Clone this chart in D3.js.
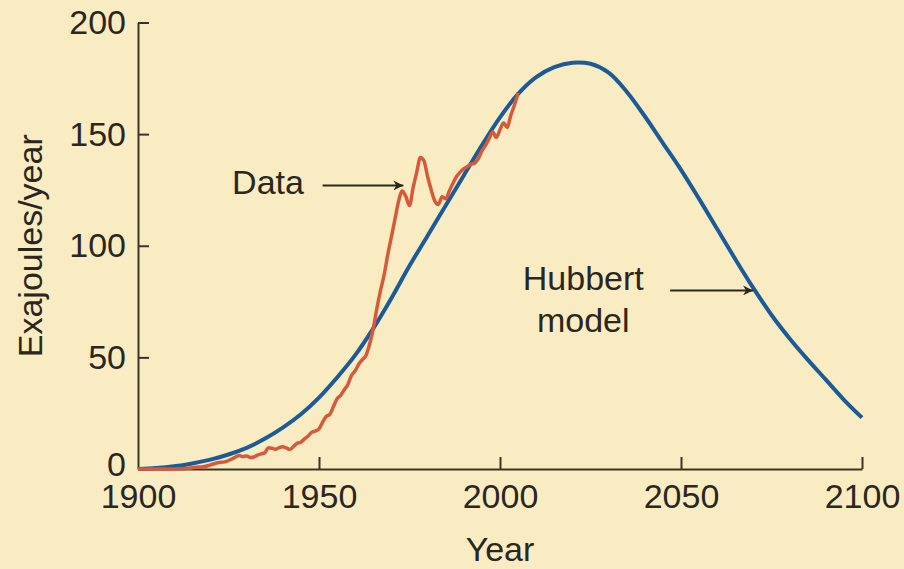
<html>
<head>
<script src="https://cdn.jsdelivr.net/npm/d3@7"></script>
<style>
    body { margin: 0; background: #faecc2; }
    svg { display: block; }
    .axis path, .axis line { stroke: #3a3424; stroke-width: 2; }
    .axis text, text.label { fill: #2a2620; font-family: "Liberation Sans", Arial, sans-serif; }
</style>
</head>
<body>
<script>
// Hubbert model curve (Exajoules/year)
var modelYears  = [1900, 1905, 1910, 1915, 1920, 1925, 1930, 1935, 1940, 1945, 1950, 1955, 1960, 1965, 1970,
    1975, 1980, 1985, 1990, 1995, 2000, 2005, 2010, 2015, 2020, 2025, 2030, 2035, 2040, 2045, 2050,
    2055, 2060, 2065, 2070, 2075, 2080, 2085, 2090, 2095, 2100];
var modelValues = [0, 0.4, 1.2, 2.5, 4.2, 6.5, 9.5, 13.5, 18.5, 24.5, 32, 41, 51, 63, 76.5,
    91, 104.5, 118, 131.5, 145, 157.5, 168, 175.5, 180, 182, 181.5, 177.5, 169, 158, 146, 134,
    121, 107.5, 94, 81, 69, 58.5, 49, 40, 31, 23];

var dataYears = [1900, 1905, 1910, 1914, 1916, 1918, 1920, 1922, 1924, 1926, 1928, 1929, 1930, 1931, 1932, 1933, 1934, 1935,
    1936, 1937, 1938, 1939, 1940, 1941, 1942, 1943, 1944, 1945, 1946, 1947, 1948, 1949, 1950, 1951, 1952, 1953, 1954,
    1955, 1956, 1957, 1958, 1959, 1960, 1961, 1962, 1963, 1964, 1965, 1966, 1967, 1968, 1969, 1970, 1971, 1972, 1973,
    1974, 1975, 1976, 1977, 1978, 1979, 1980, 1981, 1982, 1983, 1984, 1985, 1986, 1987, 1988, 1989, 1990, 1991, 1992,
    1993, 1994, 1995, 1996, 1997, 1998, 1999, 2000, 2001, 2002, 2003, 2004, 2005];
var dataValues = [0, 0, 0, 0.3, 0.8, 1.0, 1.8, 2.8, 3.2, 4.5, 6.0, 5.6, 5.8, 5.2, 5.4, 6.2, 6.8, 7.2,
    9.5, 9.3, 8.8, 9.6, 10.0, 9.4, 8.8, 10.2, 11.5, 12.0, 13.5, 14.8, 16.5, 17.0, 18.0, 21.0, 23.5, 24.5, 28.0,
    31.5, 33.0, 35.5, 38.0, 42.0, 44.0, 47.0, 49.0, 51.0, 56.0, 63.0, 72.0, 80.0, 87.0, 96.0, 104.0, 112.0, 120.0, 124.5,
    122.0, 118.0, 126.0, 133.0, 139.5, 138.0, 131.0, 125.0, 120.0, 118.5, 122.0, 121.0, 124.5, 128.0, 131.0, 133.0, 134.5, 135.5, 136.5,
    137.0, 139.0, 142.5, 145.0, 148.0, 151.0, 148.5, 152.0, 155.0, 153.0, 158.5, 163.0, 168.5];

var xTicks = [1900, 1950, 2000, 2050, 2100];
var yTicks = [0, 50, 100, 150, 200];

// annotations: label lines and the point the arrow hits
var notes = [
    { lines: ["Data"], textYear: 1926, textValue: 123, anchor: "start", fromYear: 1951, toYear: 1973.3, arrowValue: 127 },
    { lines: ["Hubbert", "model"], textYear: 2023, textValue: 80, anchor: "middle", fromYear: 2047, toYear: 2069.9, arrowValue: 80 }
];

var fontSize = 34;
var width = 904, height = 569;
var svg = d3.select("body").append("svg")
    .attr("width", width)
    .attr("height", height);

svg.append("rect")
    .attr("width", width)
    .attr("height", height)
    .attr("fill", "#faecc2");

var x = d3.scaleLinear().domain([1900, 2100]).range([138, 862]);
var y = d3.scaleLinear().domain([0, 200]).range([469, 22.5]);

// arrowhead
svg.append("defs").append("marker")
    .attr("id", "arrow")
    .attr("viewBox", "0 -5 10 10")
    .attr("refX", 10)
    .attr("refY", 0)
    .attr("markerWidth", 16)
    .attr("markerHeight", 10)
    .attr("markerUnits", "userSpaceOnUse")
    .attr("orient", "auto")
  .append("path")
    .attr("d", "M0,-5L10,0L0,5L3,0Z")
    .attr("fill", "#2a2620");

// axes
var gx = svg.append("g")
    .attr("class", "axis")
    .attr("transform", "translate(0," + y(0) + ")")
    .call(d3.axisBottom(x).tickValues(xTicks).tickFormat(d3.format("d"))
        .tickSizeInner(-12).tickSizeOuter(0).tickPadding(15));
gx.selectAll("text").attr("font-size", fontSize);

var gy = svg.append("g")
    .attr("class", "axis")
    .attr("transform", "translate(" + x(1900) + ",0)")
    .call(d3.axisLeft(y).tickValues(yTicks)
        .tickSizeInner(-11).tickSizeOuter(0).tickPadding(12));
gy.selectAll("text").attr("font-size", fontSize);
gy.selectAll(".tick").filter(function(d) { return d === 0; }).select("line").remove();
gy.selectAll(".tick").filter(function(d) { return d === 0; }).select("text").attr("dy", "0.2em");
gx.selectAll(".tick").filter(function(d) { return d === 1900; }).select("line").remove();

// axis titles
svg.append("text")
    .attr("class", "label")
    .attr("x", (x(1900) + x(2100)) / 2)
    .attr("y", 561)
    .attr("text-anchor", "middle")
    .attr("font-size", fontSize)
    .text("Year");

svg.append("text")
    .attr("class", "label")
    .attr("transform", "translate(42," + (y(0) + y(200)) / 2 + ") rotate(-90)")
    .attr("text-anchor", "middle")
    .attr("font-size", fontSize)
    .text("Exajoules/year");

// Hubbert model
var model = modelYears.map(function(d, i) { return [d, modelValues[i]]; });
svg.append("path")
    .datum(model)
    .attr("fill", "none")
    .attr("stroke", "#1b5b97")
    .attr("stroke-width", 4)
    .attr("d", d3.line()
        .x(function(d) { return x(d[0]); })
        .y(function(d) { return y(d[1]); })
        .curve(d3.curveCatmullRom.alpha(0.5)));

// data
var data = dataYears.map(function(d, i) { return [d, dataValues[i]]; });
svg.append("path")
    .datum(data)
    .attr("fill", "none")
    .attr("stroke", "#d65a3a")
    .attr("stroke-width", 3.5)
    .attr("stroke-linejoin", "round")
    .attr("d", d3.line()
        .x(function(d) { return x(d[0]); })
        .y(function(d) { return y(d[1]); })
        .curve(d3.curveMonotoneX));

// annotations
notes.forEach(function(n) {
    var t = svg.append("text")
        .attr("class", "label")
        .attr("x", x(n.textYear))
        .attr("y", y(n.textValue))
        .attr("text-anchor", n.anchor)
        .attr("font-size", fontSize);
    n.lines.forEach(function(s, i) {
        t.append("tspan")
            .attr("x", x(n.textYear))
            .attr("dy", i === 0 ? 0 : 42)
            .text(s);
    });
    svg.append("line")
        .attr("x1", x(n.fromYear))
        .attr("x2", x(n.toYear))
        .attr("y1", y(n.arrowValue))
        .attr("y2", y(n.arrowValue))
        .attr("stroke", "#2a2620")
        .attr("stroke-width", 2)
        .attr("marker-end", "url(#arrow)");
});
</script>
</body>
</html>
